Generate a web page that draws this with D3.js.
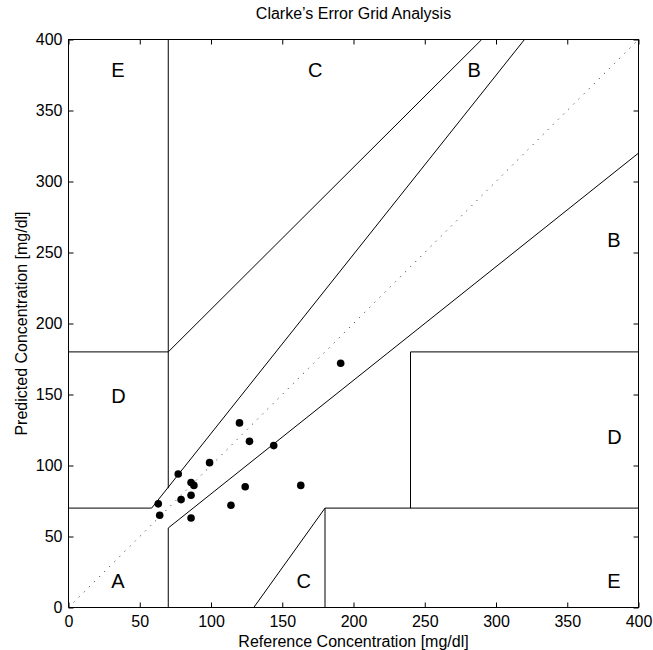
<!DOCTYPE html>
<html>
<head>
<meta charset="utf-8">
<script src="https://cdn.jsdelivr.net/npm/d3@7"></script>
<style>
  html, body { margin: 0; padding: 0; background: #fff; }
  svg { display: block; font-family: "Liberation Sans", Arial, Helvetica, sans-serif; }
</style>
</head>
<body>
<svg id="chart" width="653" height="650" viewBox="0 0 653 650"></svg>
<script>
// measured samples (reference vs predicted, mg/dl)
const refValues  = [63, 64, 77, 79, 86, 86, 88, 86, 99, 114, 120, 124, 127, 144, 163, 191];
const predValues = [73, 65, 94, 76, 88, 79, 86, 63, 102, 72, 130, 85, 117, 114, 86, 172];

// zone boundaries, [x1, y1, x2, y2] in mg/dl
const zoneLines = [
  [0, 70, 175 / 3, 70],
  [175 / 3, 70, 320, 400],
  [70, 84, 70, 400],
  [0, 180, 70, 180],
  [70, 180, 290, 400],
  [70, 0, 70, 56],
  [70, 56, 400, 320],
  [180, 0, 180, 70],
  [180, 70, 400, 70],
  [240, 70, 240, 180],
  [240, 180, 400, 180],
  [130, 0, 180, 70]
];

const zoneLabels = ["A", "B", "B", "C", "C", "D", "D", "E", "E"];
const zoneLabelX = [30, 378, 280, 168, 160, 30, 378, 30, 378];
const zoneLabelY = [19, 259, 379, 379, 19, 149, 120, 379, 19];

const axisTicks = [0, 50, 100, 150, 200, 250, 300, 350, 400];

const svg = d3.select("#chart");
const margin = {top: 39.5, left: 68.5, right: 14.5, bottom: 42.5};
const W = 653, H = 650;

const x = d3.scaleLinear().domain([0, 400]).range([margin.left, W - margin.right]);
const y = d3.scaleLinear().domain([0, 400]).range([H - margin.bottom, margin.top]);

// axes with inward ticks (matlab look)
svg.append("g")
  .attr("transform", `translate(0,${y(0)})`)
  .call(d3.axisBottom(x).tickValues(axisTicks).tickSize(-5).tickPadding(8))
  .call(g => g.select(".domain").remove());

svg.append("g")
  .attr("transform", `translate(${x(0)},0)`)
  .call(d3.axisLeft(y).tickValues(axisTicks).tickSize(-5).tickPadding(6))
  .call(g => g.select(".domain").remove());

svg.append("g")
  .attr("transform", `translate(0,${y(400)})`)
  .call(d3.axisTop(x).tickValues(axisTicks).tickSize(-5).tickFormat(""))
  .call(g => g.select(".domain").remove());

svg.append("g")
  .attr("transform", `translate(${x(400)},0)`)
  .call(d3.axisRight(y).tickValues(axisTicks).tickSize(-5).tickFormat(""))
  .call(g => g.select(".domain").remove());

svg.selectAll(".tick text")
  .attr("fill", "#000")
  .attr("font-size", "16px")
  .attr("font-family", "'Liberation Sans', Arial, Helvetica, sans-serif");
svg.selectAll(".tick line").attr("stroke", "#000");

// frame
svg.append("rect")
  .attr("x", x(0))
  .attr("y", y(400))
  .attr("width", x(400) - x(0))
  .attr("height", y(0) - y(400))
  .attr("fill", "none")
  .attr("stroke", "#000")
  .attr("stroke-width", 1);

// 45 degree reference
svg.append("line")
  .attr("x1", x(0)).attr("y1", y(0))
  .attr("x2", x(400)).attr("y2", y(400))
  .attr("stroke", "#444")
  .attr("stroke-width", 1)
  .attr("stroke-dasharray", "1.2,6");

// zone boundaries
svg.append("g").selectAll("line")
  .data(zoneLines)
  .enter()
  .append("line")
  .attr("x1", d => x(d[0]))
  .attr("y1", d => y(d[1]))
  .attr("x2", d => x(d[2]))
  .attr("y2", d => y(d[3]))
  .attr("stroke", "#000")
  .attr("stroke-width", 1);

// zone letters
svg.append("g").selectAll("text")
  .data(zoneLabels)
  .enter()
  .append("text")
  .attr("x", (d, i) => x(zoneLabelX[i]))
  .attr("y", (d, i) => y(zoneLabelY[i]))
  .attr("dy", "0.36em")
  .attr("font-size", "20px")
  .attr("fill", "#000")
  .text(d => d);

// points
svg.append("g").selectAll("circle")
  .data(refValues.map((r, i) => ({r, p: predValues[i]})))
  .enter()
  .append("circle")
  .attr("cx", d => x(d.r))
  .attr("cy", d => y(d.p))
  .attr("r", 3.8)
  .attr("fill", "#000");

// titles
svg.append("text")
  .attr("x", (x(0) + x(400)) / 2)
  .attr("y", 19)
  .attr("text-anchor", "middle")
  .attr("font-size", "16px")
  .attr("fill", "#000")
  .text("Clarke’s Error Grid Analysis");

svg.append("text")
  .attr("x", (x(0) + x(400)) / 2)
  .attr("y", 647)
  .attr("text-anchor", "middle")
  .attr("font-size", "16px")
  .attr("fill", "#000")
  .text("Reference Concentration [mg/dl]");

svg.append("text")
  .attr("x", -(y(0) + y(400)) / 2)
  .attr("y", 27)
  .attr("text-anchor", "middle")
  .attr("transform", "rotate(-90)")
  .attr("font-size", "16px")
  .attr("fill", "#000")
  .text("Predicted Concentration [mg/dl]");
</script>
</body>
</html>
